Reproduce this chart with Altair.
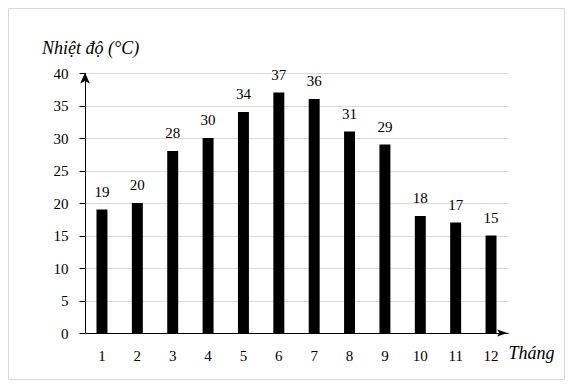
import altair as alt
import pandas as pd

months = ["1", "2", "3", "4", "5", "6", "7", "8", "9", "10", "11", "12"]
temps = [19, 20, 28, 30, 34, 37, 36, 31, 29, 18, 17, 15]
y_ticks = [0, 5, 10, 15, 20, 25, 30, 35, 40]
y_title = "Nhiệt độ (°C)"
x_title = "Tháng"

df = pd.DataFrame({"month": months, "temp": temps})
one = pd.DataFrame({"a": [0]})

FONT = "Times New Roman, Liberation Serif, serif"
W, H = 423, 260
PL, PT, PR, PB = 77, 65, 57, 47

x_enc = alt.X("month:N", sort=months,
              scale=alt.Scale(paddingInner=0.69, paddingOuter=0.325),
              axis=alt.Axis(title=None, labelAngle=0, ticks=False, tickSize=0,
                            labelPadding=27, labelBaseline="alphabetic",
                            domainColor="black", domainWidth=1, grid=False,
                            labelOverlap=False))
y_enc = alt.Y("temp:Q", scale=alt.Scale(domain=[0, 40], nice=False),
              axis=alt.Axis(title=None, values=y_ticks, tickSize=6, labelPadding=11,
                            tickColor="black", domainColor="black", domainWidth=1,
                            grid=True, gridColor="#d9d9d9", gridWidth=1,
                            labelOverlap=False))

bars = alt.Chart(df).mark_bar(color="black").encode(x=x_enc, y=y_enc)
labels = alt.Chart(df).mark_text(font=FONT, fontSize=15, baseline="alphabetic",
                                 dy=-13, color="black").encode(
    x=x_enc, y=y_enc, text="temp:Q")

up_arrow = alt.Chart(one).mark_point(
    shape="M0,-1L0.7,0.6L0,0.25L-0.7,0.6Z", filled=True, color="black",
    size=185, opacity=1, strokeWidth=0).encode(x=alt.value(0), y=alt.value(6.4))
right_arrow = alt.Chart(one).mark_point(
    shape="M1,0L-0.6,0.55L-0.25,0L-0.6,-0.55Z", filled=True, color="black",
    size=170, opacity=1, strokeWidth=0).encode(x=alt.value(W - 7.0), y=alt.value(H))

ytitle = alt.Chart(one).mark_text(text=y_title, font=FONT, fontSize=18,
                                  fontStyle="italic", align="left",
                                  baseline="alphabetic", color="black").encode(
    x=alt.value(-43), y=alt.value(-19))
xtitle = alt.Chart(one).mark_text(text=x_title, font=FONT, fontSize=18,
                                  fontStyle="italic", align="left",
                                  baseline="alphabetic", color="black").encode(
    x=alt.value(W + 0.5), y=alt.value(H + 26))

border = alt.Chart(one).mark_rect(fill=None, stroke="#d9d9d9", strokeWidth=1).encode(
    x=alt.value(-PL + 0.5), x2=alt.value(W + PR - 0.5),
    y=alt.value(-PT + 0.5), y2=alt.value(H + PB - 0.5))

chart = alt.layer(border, bars, labels, up_arrow, right_arrow, ytitle, xtitle).properties(
    width=W, height=H,
    autosize=alt.AutoSizeParams(type="none"),
    padding={"left": PL, "top": PT, "right": PR, "bottom": PB},
    background="white",
).configure_view(stroke=None).configure_axis(
    labelFont=FONT, labelFontSize=15, labelColor="black"
)

chart.save("out.html", embed_options={"renderer": "svg", "actions": False})
